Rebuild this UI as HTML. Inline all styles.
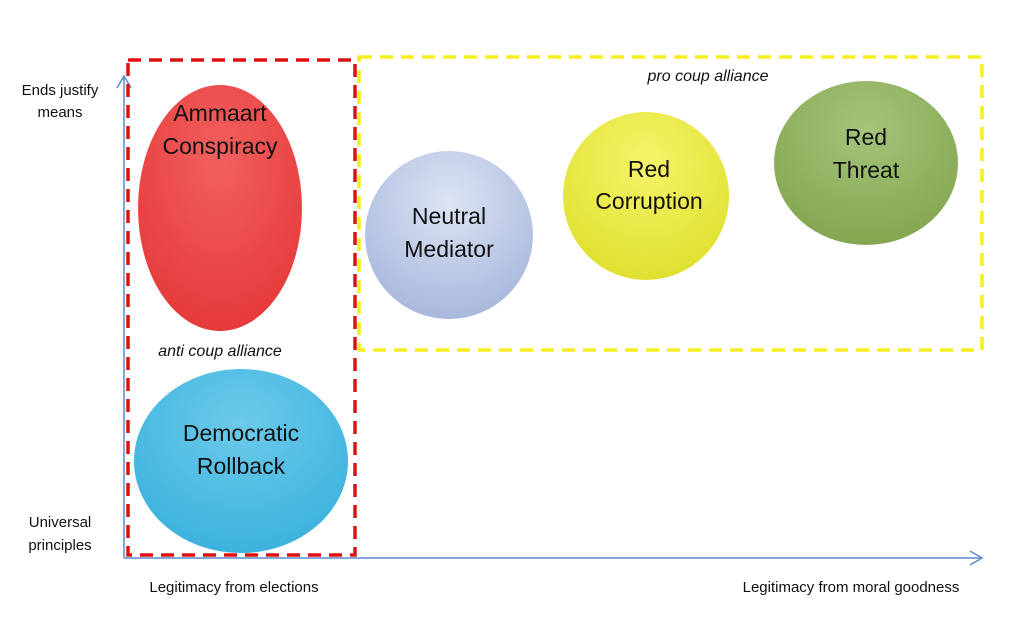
<!DOCTYPE html>
<html><head><style>
body{margin:0;background:#fff}
svg{display:block}
text{font-family:"Liberation Sans",sans-serif}
</style></head><body>
<svg width="1024" height="620" viewBox="0 0 1024 620">
<defs>
<radialGradient id="gr" cx="0.5" cy="0.3" r="0.7"><stop offset="0" stop-color="#f26060"/><stop offset="1" stop-color="#e63a3a"/></radialGradient>
<radialGradient id="gb" cx="0.5" cy="0.3" r="0.7"><stop offset="0" stop-color="#6ccaea"/><stop offset="1" stop-color="#3cb2de"/></radialGradient>
<radialGradient id="gn" cx="0.5" cy="0.3" r="0.7"><stop offset="0" stop-color="#dce4f4"/><stop offset="1" stop-color="#a8b8dc"/></radialGradient>
<radialGradient id="gy" cx="0.5" cy="0.3" r="0.7"><stop offset="0" stop-color="#f4f46a"/><stop offset="1" stop-color="#e0e030"/></radialGradient>
<radialGradient id="gg" cx="0.5" cy="0.3" r="0.7"><stop offset="0" stop-color="#a4c47a"/><stop offset="1" stop-color="#84a650"/></radialGradient>
</defs>
<line x1="124" y1="78" x2="124" y2="558" stroke="#5b8bc7" stroke-width="1.5"/>
<polyline points="117,88 124,76 131,88" fill="none" stroke="#5b8bc7" stroke-width="1.5"/>
<line x1="124" y1="558" x2="980" y2="558" stroke="#5b8bc7" stroke-width="1.5"/>
<polyline points="970,551 982,558 970,565" fill="none" stroke="#5b8bc7" stroke-width="1.5"/>
<rect x="128" y="60" width="227" height="495" fill="none" stroke="#e01010" stroke-width="3.5" stroke-dasharray="13,8"/>
<rect x="359" y="57" width="623" height="293" fill="none" stroke="#f5ee20" stroke-width="3.5" stroke-dasharray="13,8"/>
<ellipse cx="220" cy="208" rx="82" ry="123" fill="url(#gr)"/>
<ellipse cx="241" cy="461" rx="107" ry="92" fill="url(#gb)"/>
<ellipse cx="449" cy="235" rx="84" ry="84" fill="url(#gn)"/>
<ellipse cx="646" cy="196" rx="83" ry="84" fill="url(#gy)"/>
<ellipse cx="866" cy="163" rx="92" ry="82" fill="url(#gg)"/>
<g font-size="23" fill="#111" text-anchor="middle">
<text x="220" y="121">Ammaart</text><text x="220" y="154">Conspiracy</text>
<text x="241" y="441">Democratic</text><text x="241" y="474">Rollback</text>
<text x="449" y="224">Neutral</text><text x="449" y="257">Mediator</text>
<text x="649" y="177">Red</text><text x="649" y="209">Corruption</text>
<text x="866" y="145">Red</text><text x="866" y="178">Threat</text>
</g>
<g font-size="16" font-style="italic" fill="#111" text-anchor="middle">
<text x="220" y="356">anti coup alliance</text>
<text x="708" y="81">pro coup alliance</text>
</g>
<g font-size="15" fill="#111" text-anchor="middle">
<text x="60" y="95">Ends justify</text><text x="60" y="117">means</text>
<text x="60" y="527">Universal</text><text x="60" y="550">principles</text>
<text x="234" y="592">Legitimacy from elections</text>
<text x="851" y="592">Legitimacy from moral goodness</text>
</g>
</svg>
</body></html>
